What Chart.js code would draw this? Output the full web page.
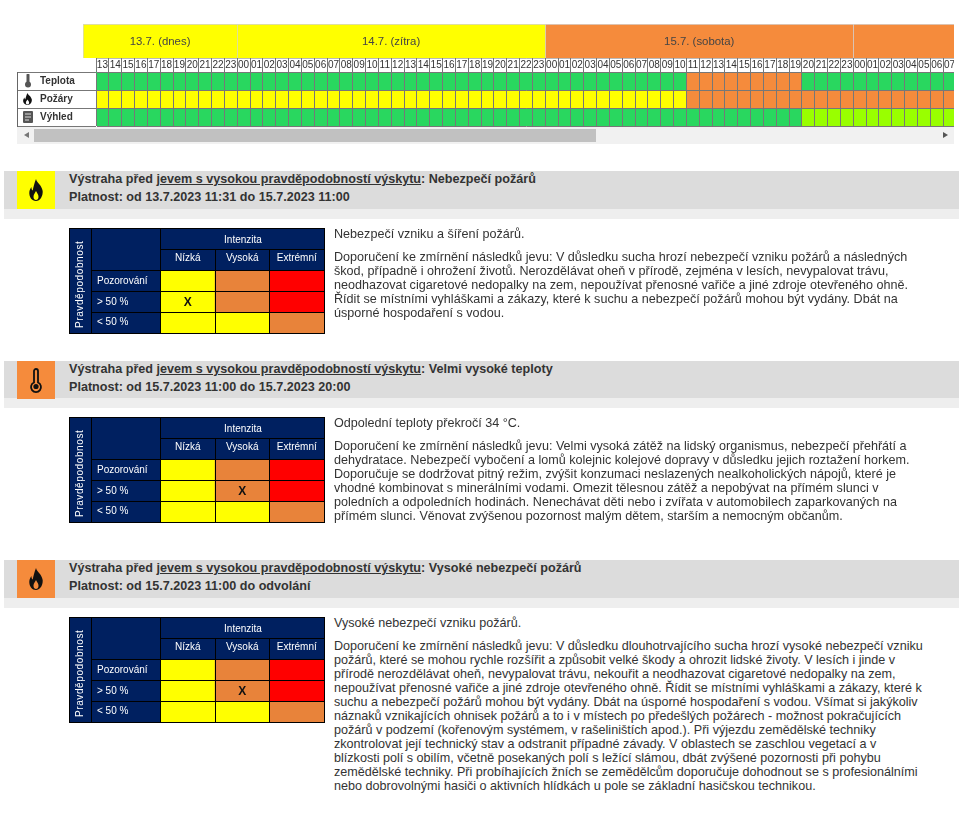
<!DOCTYPE html>
<html lang="cs">
<head>
<meta charset="utf-8">
<title>Výstrahy</title>
<script src="https://cdn.jsdelivr.net/npm/chart.js@4"></script>
<style>
    html, body { margin: 0; padding: 0; background: #fff; overflow: hidden; }
    body { position: relative; width: 959px; height: 818px; font: 12.6px "Liberation Sans", Arial, sans-serif; color: #333; }
    canvas { position: absolute; display: block; }
    .clip { position: absolute; overflow: hidden; }
    .abs { position: absolute; }
    .scrollbar { left: 17px; top: 127px; width: 937px; height: 17px; background: #f1f1f1; }
    .thumb { left: 17px; top: 2px; width: 562px; height: 13px; background: #c1c1c1; }
    .arrow { top: 5px; width: 0; height: 0; border-top: 3.5px solid transparent; border-bottom: 3.5px solid transparent; }
    .band { left: 4px; width: 955px; height: 38px; background: #dcdcdc; }
    .subband { left: 4px; width: 955px; height: 10px; background: #eee; }
    .icon { left: 17px; width: 38px; height: 38px; }
    .heading { left: 69px; font-weight: bold; line-height: 17.5px; white-space: nowrap; }
    .heading u { text-decoration: underline; }
    .text { left: 334px; line-height: 14px; white-space: nowrap; }
    .text p { margin: 0 0 9px 0; }
    .risk { left: 69px; width: 256px; height: 106px; background: #002060; color: #fff; font-size: 10px; }
    .risk .frame { position: absolute; left: 0; top: 0; width: 254px; height: 104px; border: 1px solid #000; pointer-events: none; }
    .risk .intensity { position: absolute; left: 91px; top: 0; width: 165px; height: 22px; line-height: 23px; text-align: center; border-left: 1px solid #000; border-bottom: 1px solid #000; box-sizing: border-box; }
    .risk .side { position: absolute; left: 0; top: 0; width: 23px; height: 106px; border-right: 1px solid #000; box-sizing: border-box; }
    .risk .side span { position: absolute; left: 4px; top: 20px; height: 80px; writing-mode: vertical-rl; transform: rotate(180deg); text-align: center; letter-spacing: 0.6px; font-size: 10px; line-height: 13px; white-space: nowrap; }
    .risk .labelSplit { position: absolute; left: 91px; top: 0; width: 1px; height: 43px; background: #000; }
</style>
</head>
<body>

<div class="clip" style="left:83px;top:24px;width:871px;height:34px"><canvas id="chartDays" width="873" height="34"></canvas></div>
<div class="clip" style="left:17px;top:58px;width:937px;height:69px"><canvas id="chartTimeline" width="939" height="69"></canvas></div>
<div class="abs" style="left:17px;top:72px;width:1px;height:55px;background:#666"></div>

<svg class="abs" style="left:22px;top:74px" width="12" height="14" viewBox="0 0 12 14"><path d="M6 1v7" stroke="#555" stroke-width="3" stroke-linecap="round"/><circle cx="6" cy="10.5" r="3" fill="#555"/></svg>
<svg class="abs" style="left:21px;top:92px" width="13" height="14" viewBox="0 0 24 24"><path fill="#111" fill-rule="evenodd" d="M12 1c1 4 7 6 8 12 .5 5-3 10-8 10s-8.500-4-8-9c.3-2 1.500-4 2.500-5 0 2 .5 3 1.500 3.500C9 9 10 5 12 1zM12 13c-1 2-3 3-3 6 0 2 1.500 3 3 3s3-1 3-3c0-3-2-4-3-6z"/></svg>
<svg class="abs" style="left:22px;top:110px" width="12" height="14" viewBox="0 0 12 14"><rect x="1" y="1" width="10" height="12" rx="1" fill="#555"/><path d="M3 4h6M3 7h6M3 10h4" stroke="#ddd" stroke-width="1"/></svg>

<div class="abs scrollbar">
    <div class="abs thumb"></div>
    <div class="abs arrow" style="left:7px;border-right:5px solid #777"></div>
    <div class="abs arrow" style="left:926px;border-left:5px solid #555"></div>
</div>

<!-- Nebezpeci pozaru -->
<div class="abs band" style="top:171px"></div>
<div class="abs subband" style="top:209px"></div>
<div class="abs icon" style="top:171px;background:#ffff00"><svg class="abs" style="left:9px;top:7px" width="20" height="24" viewBox="0 0 24 24" preserveAspectRatio="none"><path fill="#111" fill-rule="evenodd" d="M12 1c1 4 7 6 8 12 .5 5-3 10-8 10s-8.500-4-8-9c.3-2 1.500-4 2.500-5 0 2 .5 3 1.500 3.500C9 9 10 5 12 1zM12 13c-1 2-3 3-3 6 0 2 1.500 3 3 3s3-1 3-3c0-3-2-4-3-6z"/></svg></div>
<div class="abs heading" style="top:171px">Výstraha před <u>jevem s vysokou pravděpodobností výskytu</u>: Nebezpečí požárů<br>Platnost: od 13.7.2023 11:31 do 15.7.2023 11:00</div>
<div class="abs risk" style="top:228px" id="risk1"><canvas id="chartRisk1" width="256" height="106"></canvas></div>
<div class="abs text" style="top:227px">
    <p>Nebezpečí vzniku a šíření požárů.</p>
    Doporučení ke zmírnění následků jevu: V důsledku sucha hrozí nebezpečí vzniku požárů a následných<br>
    škod, případně i ohrožení životů. Nerozdělávat oheň v přírodě, zejména v lesích, nevypalovat trávu,<br>
    neodhazovat cigaretové nedopalky na zem, nepoužívat přenosné vařiče a jiné zdroje otevřeného ohně.<br>
    Řídit se místními vyhláškami a zákazy, které k suchu a nebezpečí požárů mohou být vydány. Dbát na<br>
    úsporné hospodaření s vodou.
</div>

<!-- Velmi vysoke teploty -->
<div class="abs band" style="top:361px"></div>
<div class="abs subband" style="top:398px"></div>
<div class="abs icon" style="top:361px;background:#f58b3c"><svg class="abs" style="left:12px;top:6px" width="14" height="26" viewBox="0 0 14 26"><path d="M7 2a2 2 0 0 1 2 2v11.500a5 5 0 1 1-4 0V4a2 2 0 0 1 2-2z" fill="none" stroke="#111" stroke-width="1.800"/><circle cx="7" cy="19.500" r="2.600" fill="#111"/></svg></div>
<div class="abs heading" style="top:361px">Výstraha před <u>jevem s vysokou pravděpodobností výskytu</u>: Velmi vysoké teploty<br>Platnost: od 15.7.2023 11:00 do 15.7.2023 20:00</div>
<div class="abs risk" style="top:417px" id="risk2"><canvas id="chartRisk2" width="256" height="106"></canvas></div>
<div class="abs text" style="top:416px">
    <p>Odpolední teploty překročí 34 °C.</p>
    Doporučení ke zmírnění následků jevu: Velmi vysoká zátěž na lidský organismus, nebezpečí přehřátí a<br>
    dehydratace. Nebezpečí vybočení a lomů kolejnic kolejové dopravy v důsledku jejich roztažení horkem.<br>
    Doporučuje se dodržovat pitný režim, zvýšit konzumaci neslazených nealkoholických nápojů, které je<br>
    vhodné kombinovat s minerálními vodami. Omezit tělesnou zátěž a nepobývat na přímém slunci v<br>
    poledních a odpoledních hodinách. Nenechávat děti nebo i zvířata v automobilech zaparkovaných na<br>
    přímém slunci. Věnovat zvýšenou pozornost malým dětem, starším a nemocným občanům.
</div>

<!-- Vysoke nebezpeci pozaru -->
<div class="abs band" style="top:560px"></div>
<div class="abs subband" style="top:598px"></div>
<div class="abs icon" style="top:560px;background:#f58b3c"><svg class="abs" style="left:9px;top:7px" width="20" height="24" viewBox="0 0 24 24" preserveAspectRatio="none"><path fill="#111" fill-rule="evenodd" d="M12 1c1 4 7 6 8 12 .5 5-3 10-8 10s-8.500-4-8-9c.3-2 1.500-4 2.500-5 0 2 .5 3 1.500 3.500C9 9 10 5 12 1zM12 13c-1 2-3 3-3 6 0 2 1.500 3 3 3s3-1 3-3c0-3-2-4-3-6z"/></svg></div>
<div class="abs heading" style="top:560px">Výstraha před <u>jevem s vysokou pravděpodobností výskytu</u>: Vysoké nebezpečí požárů<br>Platnost: od 15.7.2023 11:00 do odvolání</div>
<div class="abs risk" style="top:617px" id="risk3"><canvas id="chartRisk3" width="256" height="106"></canvas></div>
<div class="abs text" style="top:616px">
    <p>Vysoké nebezpečí vzniku požárů.</p>
    Doporučení ke zmírnění následků jevu: V důsledku dlouhotrvajícího sucha hrozí vysoké nebezpečí vzniku<br>
    požárů, které se mohou rychle rozšířit a způsobit velké škody a ohrozit lidské životy. V lesích i jinde v<br>
    přírodě nerozdělávat oheň, nevypalovat trávu, nekouřit a neodhazovat cigaretové nedopalky na zem,<br>
    nepoužívat přenosné vařiče a jiné zdroje otevřeného ohně. Řídit se místními vyhláškami a zákazy, které k<br>
    suchu a nebezpečí požárů mohou být vydány. Dbát na úsporné hospodaření s vodou. Všímat si jakýkoliv<br>
    náznaků vznikajících ohnisek požárů a to i v místech po předešlých požárech - možnost pokračujících<br>
    požárů v podzemí (kořenovým systémem, v rašeliništích apod.). Při výjezdu zemědělské techniky<br>
    zkontrolovat její technický stav a odstranit případné závady. V oblastech se zaschlou vegetací a v<br>
    blízkosti polí s obilím, včetně posekaných polí s ležící slámou, dbát zvýšené pozornosti při pohybu<br>
    zemědělské techniky. Při probíhajících žních se zemědělcům doporučuje dohodnout se s profesionálními<br>
    nebo dobrovolnými hasiči o aktivních hlídkách u pole se základní hasičskou technikou.
</div>

<script>
// days over the timeline, hours counted from 13:00 of the first day
var dayLabels = ["13.7. (dnes)", "14.7. (zítra)", "15.7. (sobota)", ""];
var dayStarts = [-1, 11, 35, 59];
var dayEnds = [11, 35, 59, 83];
var dayLevels = ["yellow", "yellow", "orange", "orange"];

var hourLabels = [
    "13", "14", "15", "16", "17", "18", "19", "20", "21", "22", "23",
    "00", "01", "02", "03", "04", "05", "06", "07", "08", "09", "10", "11", "12",
    "13", "14", "15", "16", "17", "18", "19", "20", "21", "22", "23",
    "00", "01", "02", "03", "04", "05", "06", "07", "08", "09", "10", "11", "12",
    "13", "14", "15", "16", "17", "18", "19", "20", "21", "22", "23",
    "00", "01", "02", "03", "04", "05", "06", "07"
];

var rowNames = ["Teplota", "Požáry", "Výhled"];

// G green, L lime, Y yellow, O orange
var teplotaLevels = [
    "G", "G", "G", "G", "G", "G", "G", "G", "G", "G", "G",
    "G", "G", "G", "G", "G", "G", "G", "G", "G", "G", "G", "G", "G",
    "G", "G", "G", "G", "G", "G", "G", "G", "G", "G", "G",
    "G", "G", "G", "G", "G", "G", "G", "G", "G", "G", "G", "O", "O",
    "O", "O", "O", "O", "O", "O", "O", "G", "G", "G", "G",
    "G", "G", "G", "G", "G", "G", "G", "G"
];
var pozaryLevels = [
    "Y", "Y", "Y", "Y", "Y", "Y", "Y", "Y", "Y", "Y", "Y",
    "Y", "Y", "Y", "Y", "Y", "Y", "Y", "Y", "Y", "Y", "Y", "Y", "Y",
    "Y", "Y", "Y", "Y", "Y", "Y", "Y", "Y", "Y", "Y", "Y",
    "Y", "Y", "Y", "Y", "Y", "Y", "Y", "Y", "Y", "Y", "Y", "O", "O",
    "O", "O", "O", "O", "O", "O", "O", "O", "O", "O", "O",
    "O", "O", "O", "O", "O", "O", "O", "O"
];
var vyhledLevels = [
    "G", "G", "G", "G", "G", "G", "G", "G", "G", "G", "G",
    "G", "G", "G", "G", "G", "G", "G", "G", "G", "G", "G", "G", "G",
    "G", "G", "G", "G", "G", "G", "G", "G", "G", "G", "G",
    "G", "G", "G", "G", "G", "G", "G", "G", "G", "G", "G", "G", "G",
    "G", "G", "G", "G", "G", "G", "G", "L", "L", "L", "L",
    "L", "L", "L", "L", "L", "L", "L", "L"
];

// risk matrix
var intensityLabels = ["Nízká", "Vysoká", "Extrémní"];
var probabilityLabels = ["Pozorování", "> 50 %", "< 50 %"];
var riskObserved = ["yellow", "orange", "red"];
var riskAbove50 = ["yellow", "orange", "red"];
var riskBelow50 = ["yellow", "yellow", "orange"];

// where the X sits in each warning: [intensity, probability]
var riskMark1 = [0, 1];
var riskMark2 = [1, 1];
var riskMark3 = [1, 1];

var cellColors = { G: "#29d75f", L: "#99ff00", Y: "#ffff00", O: "#f58b3c" };
var bandColors = { yellow: "#ffff00", orange: "#f58b3c" };
var riskColors = { yellow: "#ffff00", orange: "#e8833a", red: "#ff0000" };

Chart.defaults.font.family = '"Liberation Sans", Arial, sans-serif';
Chart.defaults.animation = false;
Chart.defaults.responsive = false;
Chart.defaults.devicePixelRatio = 1;
Chart.defaults.plugins.legend.display = false;
Chart.defaults.plugins.tooltip.enabled = false;

function levelsToColors(levels, colors) {
    return levels.map(function (level) { return colors[level]; });
}

function ones(list) {
    return list.map(function () { return 1; });
}

// tick labels sit inside the cells, so they must not shrink the chart area
function fixAxisHeight(height) {
    return function (scale) {
        scale.height = height;
        scale.paddingLeft = 0;
        scale.paddingRight = 0;
    };
}

function fixAxisWidth(width) {
    return function (scale) {
        scale.width = width;
        scale.paddingTop = 0;
        scale.paddingBottom = 0;
    };
}

function drawDays() {
    var datasets = dayLabels.map(function (label, i) {
        return {
            label: label,
            data: [[dayStarts[i], dayEnds[i]]],
            backgroundColor: bandColors[dayLevels[i]],
            borderColor: "#d4d4d4",
            borderWidth: { left: 1, top: 1 },
            borderSkipped: false,
            grouped: false,
            barPercentage: 1,
            categoryPercentage: 1
        };
    });

    var dayText = {
        id: "dayText",
        afterDatasetsDraw: function (chart) {
            var ctx = chart.ctx;
            var x = chart.scales.x;
            ctx.save();
            ctx.font = '11.4px "Liberation Sans", Arial, sans-serif';
            ctx.fillStyle = "#444";
            ctx.textAlign = "center";
            ctx.textBaseline = "middle";
            dayLabels.forEach(function (label, i) {
                ctx.fillText(label, x.getPixelForValue((dayStarts[i] + dayEnds[i]) / 2), 17.5);
            });
            ctx.restore();
        }
    };

    new Chart(document.getElementById("chartDays"), {
        type: "bar",
        data: { labels: ["den"], datasets: datasets },
        options: {
            indexAxis: "y",
            scales: {
                x: { type: "linear", display: false, min: -1, max: 67 },
                y: { display: false }
            }
        },
        plugins: [dayText]
    });
}

function drawTimeline() {
    new Chart(document.getElementById("chartTimeline"), {
        type: "bar",
        data: {
            labels: hourLabels,
            datasets: [
                { label: rowNames[0], data: ones(teplotaLevels), backgroundColor: levelsToColors(teplotaLevels, cellColors) },
                { label: rowNames[1], data: ones(pozaryLevels), backgroundColor: levelsToColors(pozaryLevels, cellColors) },
                { label: rowNames[2], data: ones(vyhledLevels), backgroundColor: levelsToColors(vyhledLevels, cellColors) }
            ]
        },
        options: {
            layout: { padding: { left: 23, bottom: 1 } },
            datasets: { bar: { barPercentage: 1, categoryPercentage: 1 } },
            scales: {
                x: {
                    position: "top",
                    stacked: true,
                    border: { color: "#777" },
                    grid: { color: "#777", offset: true, z: 1, tickLength: 14 },
                    ticks: {
                        autoSkip: false,
                        maxRotation: 0,
                        minRotation: 0,
                        padding: -13,
                        color: "#333",
                        font: { size: 10 }
                    },
                    afterFit: fixAxisHeight(14)
                },
                y: { display: false, stacked: true, reverse: true, min: 0, max: 3 },
                rows: {
                    axis: "y",
                    type: "category",
                    position: "left",
                    labels: rowNames,
                    offset: true,
                    border: { color: "#777" },
                    grid: { color: "#777", offset: true, z: 1, tickLength: 79 },
                    ticks: {
                        crossAlign: "far",
                        padding: 0,
                        color: "#333",
                        font: { size: 10, weight: "bold" }
                    },
                    afterFit: fixAxisWidth(56)
                }
            }
        }
    });
}

function drawRisk(holderId, canvasId, mark) {
    var holder = document.getElementById(holderId);
    holder.insertAdjacentHTML("beforeend",
        '<div class="side"><span>Pravděpodobnost</span></div>' +
        '<div class="labelSplit"></div>' +
        '<div class="intensity">Intenzita</div>' +
        '<div class="frame"></div>');

    var markText = {
        id: "markText",
        afterDatasetsDraw: function (chart) {
            var ctx = chart.ctx;
            ctx.save();
            ctx.font = 'bold 12px "Liberation Sans", Arial, sans-serif';
            ctx.fillStyle = "#111";
            ctx.textAlign = "center";
            ctx.textBaseline = "middle";
            ctx.fillText("X", chart.scales.x.getPixelForValue(mark[0]), chart.scales.rows.getPixelForValue(mark[1]) + 0.5);
            ctx.restore();
        }
    };

    new Chart(document.getElementById(canvasId), {
        type: "bar",
        data: {
            labels: intensityLabels,
            datasets: [
                { label: probabilityLabels[0], data: ones(riskObserved), backgroundColor: levelsToColors(riskObserved, riskColors) },
                { label: probabilityLabels[1], data: ones(riskAbove50), backgroundColor: levelsToColors(riskAbove50, riskColors) },
                { label: probabilityLabels[2], data: ones(riskBelow50), backgroundColor: levelsToColors(riskBelow50, riskColors) }
            ]
        },
        options: {
            layout: { padding: { left: 28, top: 21.5, right: 1, bottom: 1 } },
            datasets: { bar: { barPercentage: 1, categoryPercentage: 1 } },
            scales: {
                x: {
                    position: "top",
                    stacked: true,
                    border: { color: "#000" },
                    grid: { color: "#000", offset: true, z: 1, tickLength: 21 },
                    ticks: {
                        autoSkip: false,
                        maxRotation: 0,
                        minRotation: 0,
                        padding: -15,
                        color: "#fff",
                        font: { size: 10 }
                    },
                    afterFit: fixAxisHeight(21)
                },
                y: { display: false, stacked: true, reverse: true, min: 0, max: 3 },
                rows: {
                    axis: "y",
                    type: "category",
                    position: "left",
                    labels: probabilityLabels,
                    offset: true,
                    border: { color: "#000" },
                    grid: { color: "#000", offset: true, z: 1, tickLength: 69 },
                    ticks: {
                        crossAlign: "far",
                        padding: 0,
                        color: "#fff",
                        font: { size: 10 }
                    },
                    afterFit: fixAxisWidth(63.5)
                }
            }
        },
        plugins: [markText]
    });
}

drawDays();
drawTimeline();
drawRisk("risk1", "chartRisk1", riskMark1);
drawRisk("risk2", "chartRisk2", riskMark2);
drawRisk("risk3", "chartRisk3", riskMark3);
</script>
</body>
</html>
